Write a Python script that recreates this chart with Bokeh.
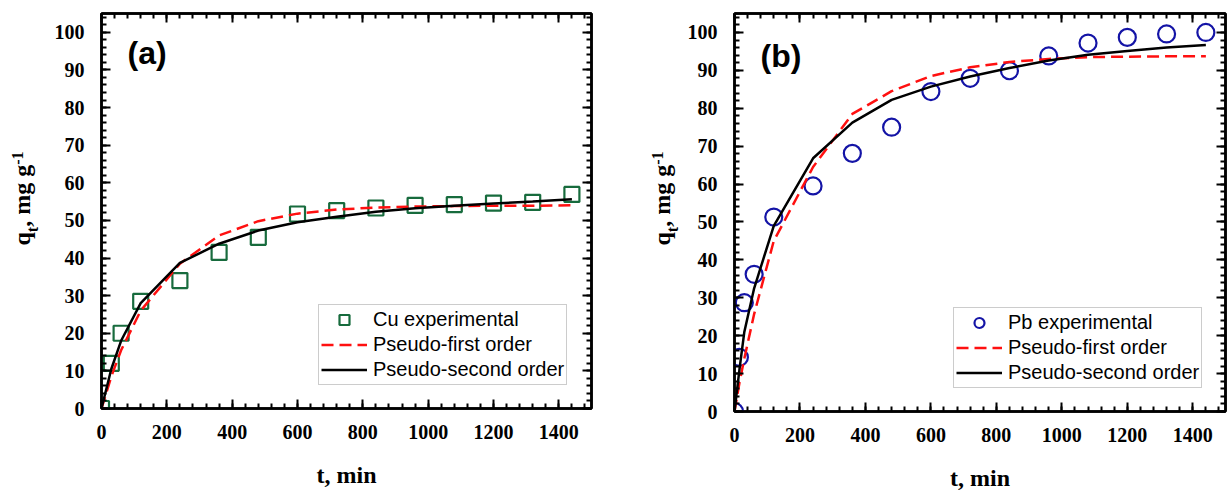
from bokeh.plotting import figure
from bokeh.models import (Range1d, LinearAxis, SingleIntervalTicker, Legend,
                          LegendItem, Label, CustomJSTickFormatter)
from bokeh.layouts import row
from bokeh.embed import file_html
from bokeh.resources import INLINE

# ---------------- data ----------------
t_cu = [0, 30, 60, 120, 240, 360, 480, 600, 720, 840, 960, 1080, 1200, 1320, 1440]
q_cu = [0, 12.0, 20.0, 28.5, 34.0, 41.5, 45.5, 51.7, 52.6, 53.3, 54.0, 54.2, 54.6, 54.8, 56.9]
pfo_cu = [0, 8.5, 15.5, 26.0, 38.5, 46.0, 49.8, 51.8, 52.9, 53.4, 53.7, 53.8, 53.9, 53.9, 54.0]
pso_cu = [0, 10.5, 18.0, 28.0, 38.7, 43.8, 47.3, 49.5, 51.0, 52.3, 53.2, 53.9, 54.5, 55.0, 55.6]

t_pb = [0, 15, 30, 60, 120, 240, 360, 480, 600, 720, 840, 960, 1080, 1200, 1320, 1440]
q_pb = [0, 14.3, 28.7, 36.2, 51.3, 59.5, 68.1, 75.0, 84.4, 87.9, 89.9, 93.8, 97.2, 98.7, 99.6, 100.0]
pfo_pb = [0, 7.5, 14.0, 25.7, 45.0, 64.5, 78.5, 84.5, 88.5, 90.8, 92.2, 93.0, 93.5, 93.6, 93.7, 93.7]
pso_pb = [0, 11.0, 21.0, 32.5, 49.0, 66.8, 76.2, 82.2, 85.7, 88.4, 90.6, 92.6, 94.1, 95.1, 96.0, 96.7]

x_label = "t, min"
y_label_parts = ["q", "t", ", mg g", "-1"]   # q_t, mg g^-1
labels_cu = ["Cu experimental", "Pseudo-first order", "Pseudo-second order"]
labels_pb = ["Pb experimental", "Pseudo-first order", "Pseudo-second order"]

SERIF = "Liberation Serif"
SANS = "Liberation Sans"
H = 488          # canvas height
BOTTOM = 80      # space below the frame


def style_axis(ax, show_labels):
    ax.axis_line_width = 2.5
    ax.axis_line_color = "black"
    ax.major_tick_in = 9
    ax.major_tick_out = 0
    ax.minor_tick_in = 5
    ax.minor_tick_out = 0
    ax.major_tick_line_width = 2
    ax.minor_tick_line_width = 2
    ax.major_tick_line_color = "black"
    ax.minor_tick_line_color = "black"
    if show_labels:
        ax.major_label_text_font = SERIF
        ax.major_label_text_font_style = "bold"
        ax.major_label_text_font_size = "20px"
        ax.major_label_text_color = "black"
    else:
        ax.formatter = CustomJSTickFormatter(code="return '';")
        ax.major_label_text_font_size = "0px"
        ax.major_label_standoff = 0
        ax.axis_label = None


def ylabel_strip(width):
    """Narrow figure that only carries the rotated y-axis title."""
    s = figure(width=width, height=H, x_range=Range1d(0, width), y_range=Range1d(0, H),
               output_backend="svg", toolbar_location=None,
               x_axis_type=None, y_axis_type=None,
               min_border_left=0, min_border_right=0, min_border_top=0, min_border_bottom=0)
    s.outline_line_color = None
    s.grid.visible = False
    main_fs, small_fs = 24, 16
    base = {"main": 21, "sub": 32, "sup": 17}
    specs = [(y_label_parts[0], main_fs, "main", 0.556),
             (y_label_parts[1], small_fs, "sub", 0.333),
             (y_label_parts[2], main_fs, "main", 2.583),
             (y_label_parts[3], small_fs, "sup", 0.833)]
    yy = 161
    for txt, fs, kind, em in specs:
        s.add_layout(Label(x=base[kind], y=yy, x_units="screen", y_units="screen", text=txt,
                           angle=90, angle_units="deg", text_color="black",
                           text_font=SERIF, text_font_style="bold",
                           text_font_size=f"{fs}px",
                           text_align="left", text_baseline="alphabetic"))
        yy += em * fs
    return s


def make_panel(t, q, pfo, pso, marker, msize, mcolor, labels, tag,
               bl, br, bt, fw, fh, leg_x):
    p = figure(frame_width=fw, frame_height=fh,
               x_range=Range1d(0, 1500), y_range=Range1d(0, 105),
               output_backend="svg", toolbar_location=None,
               min_border_left=bl, min_border_right=br,
               min_border_top=bt, min_border_bottom=BOTTOM)
    p.grid.visible = False
    p.outline_line_color = "black"
    p.outline_line_width = 2.5
    p.background_fill_color = "white"
    p.border_fill_color = "white"

    p.xaxis[0].ticker = SingleIntervalTicker(interval=200, num_minor_ticks=5)
    p.yaxis[0].ticker = SingleIntervalTicker(interval=10, num_minor_ticks=5)
    style_axis(p.xaxis[0], True)
    style_axis(p.yaxis[0], True)
    p.xaxis[0].major_label_standoff = 16
    p.yaxis[0].major_label_standoff = 17
    p.xaxis[0].axis_label = x_label
    p.xaxis[0].axis_label_text_font = SERIF
    p.xaxis[0].axis_label_text_font_style = "bold"
    p.xaxis[0].axis_label_text_font_size = "24px"
    p.xaxis[0].axis_label_text_color = "black"
    p.xaxis[0].axis_label_standoff = 20

    top = LinearAxis(ticker=SingleIntervalTicker(interval=200, num_minor_ticks=5))
    right = LinearAxis(ticker=SingleIntervalTicker(interval=10, num_minor_ticks=5))
    style_axis(top, False)
    style_axis(right, False)
    p.add_layout(top, "above")
    p.add_layout(right, "right")

    r_exp = p.scatter(t, q, marker=marker, size=msize, fill_color=None,
                      line_color=mcolor, line_width=2.2)
    r_pfo = p.line(t, pfo, line_color="#ff1010", line_dash="12 6", line_width=2.5)
    r_pso = p.line(t, pso, line_color="black", line_width=2.5)

    legend = Legend(items=[LegendItem(label=labels[0], renderers=[r_exp]),
                           LegendItem(label=labels[1], renderers=[r_pfo]),
                           LegendItem(label=labels[2], renderers=[r_pso])],
                    location=(leg_x, 23))
    legend.label_text_font = SANS
    legend.label_text_font_size = "20px"
    legend.label_text_color = "black"
    legend.glyph_width = 46
    legend.glyph_height = 25
    legend.label_height = 20
    legend.label_standoff = 6
    legend.spacing = 0
    legend.padding = 2
    legend.margin = 0
    legend.border_line_color = "#999999"
    legend.border_line_width = 1
    legend.background_fill_alpha = 1.0
    p.add_layout(legend)

    p.add_layout(Label(x=26, y=356, x_units="screen", y_units="screen", text=tag,
                       text_font=SANS, text_font_style="bold", text_font_size="32px",
                       text_color="black", text_align="left", text_baseline="alphabetic"))
    return p


ys1 = ylabel_strip(42)
p1 = make_panel(t_cu, q_cu, pfo_cu, pso_cu, "square", 15, "#176b3d", labels_cu, "(a)",
                bl=59, br=49, bt=13, fw=490, fh=395, leg_x=217)
ys2 = ylabel_strip(42)
p2 = make_panel(t_pb, q_pb, pfo_pb, pso_pb, "circle", 17, "#1414a6", labels_pb, "(b)",
                bl=52, br=2, bt=10, fw=491, fh=398, leg_x=219)

layout = row(ys1, p1, ys2, p2)
open("out.html", "w").write(file_html(layout, INLINE))
